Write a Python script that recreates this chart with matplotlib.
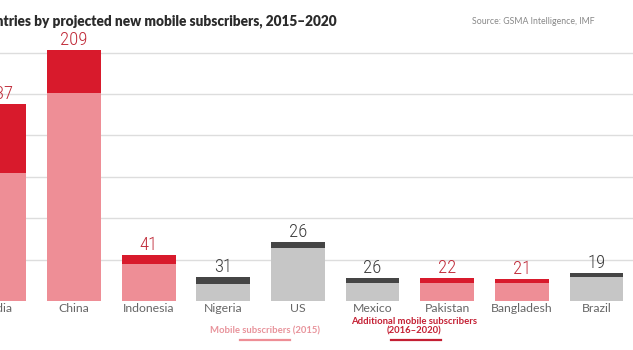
import matplotlib
matplotlib.use('Agg')
import matplotlib.pyplot as plt
from matplotlib.lines import Line2D

# data (millions)
countries = ["India", "China", "Indonesia", "Nigeria", "US", "Mexico", "Pakistan", "Bangladesh", "Brazil"]
subs_2015 = [617, 1006, 179, 84, 257, 87, 88, 87, 117]
additional = [337, 209, 41, 31, 26, 26, 22, 21, 19]
highlight = [True, True, True, False, False, False, True, True, False]

RED = '#d81a2c'
PINK = '#ee8e96'
GRAY = '#c6c6c6'
DARK = '#454545'

fig = plt.figure(figsize=(6.33, 3.5), dpi=100)
ax = fig.add_axes([0, 49/350, 1, 261/350])

xs = list(range(len(countries)))
base_cols = [PINK if h else GRAY for h in highlight]
top_cols = [RED if h else DARK for h in highlight]
ax.bar(xs, subs_2015, width=0.72, color=base_cols, zorder=2)
ax.bar(xs, additional, bottom=subs_2015, width=0.72, color=top_cols, zorder=2)

num_font = ['Liberation Sans Narrow', 'Roboto Condensed', 'DejaVu Sans']
for i in xs:
    total = subs_2015[i] + additional[i]
    ax.annotate(str(additional[i]), (i, total), xytext=(0, 1), textcoords='offset pixels',
                ha='center', va='bottom', fontsize=13.5, family=num_font,
                fontstretch='condensed', fontweight='light', annotation_clip=False,
                color='#c02a38' if highlight[i] else '#3c3c3c')
    ax.annotate(countries[i], (i, 0), xytext=(0, -8), textcoords='offset pixels',
                ha='center', va='center', fontsize=8.8, family='Lato', color='#666666',
                annotation_clip=False)

ax.set_xlim(0.008, 8.49)
ax.set_ylim(0, 1261)
ax.set_yticks([200, 400, 600, 800, 1000, 1200])
ax.yaxis.grid(True, color='#dddddd', lw=1)
ax.set_axisbelow(True)
ax.tick_params(left=False, bottom=False, labelleft=False, labelbottom=False)
ax.set_xticks([])
for s in ax.spines.values():
    s.set_visible(False)

fig.text(337/633, 1 - 21/350, "Top 10 countries by projected new mobile subscribers, 2015\u20132020",
         ha='right', va='center', fontsize=9.8, fontweight='heavy', family='Lato', color='#2b2b2b')
fig.text(472/633, 1 - 21/350, "Source: GSMA Intelligence, IMF", ha='left', va='center',
         fontsize=6.3, family='Lato', color='#888888')

fig.text(265/633, 1 - 331/350, "Mobile subscribers (2015)", ha='center', va='center',
         fontsize=6.8, fontweight='bold', family='Lato', color='#e8939b')
fig.text(414/633, 1 - 326/350, "Additional mobile subscribers\n(2016\u20132020)", ha='center', va='center',
         fontsize=6.8, fontweight='bold', family='Lato', color='#c41f33', linespacing=1.0)
fig.add_artist(Line2D([240/633, 290/633], [1 - 339.5/350] * 2, color=PINK, lw=1.6))
fig.add_artist(Line2D([391/633, 441/633], [1 - 340/350] * 2, color='#c41f33', lw=1.6))

fig.savefig('out.png', dpi=100)
